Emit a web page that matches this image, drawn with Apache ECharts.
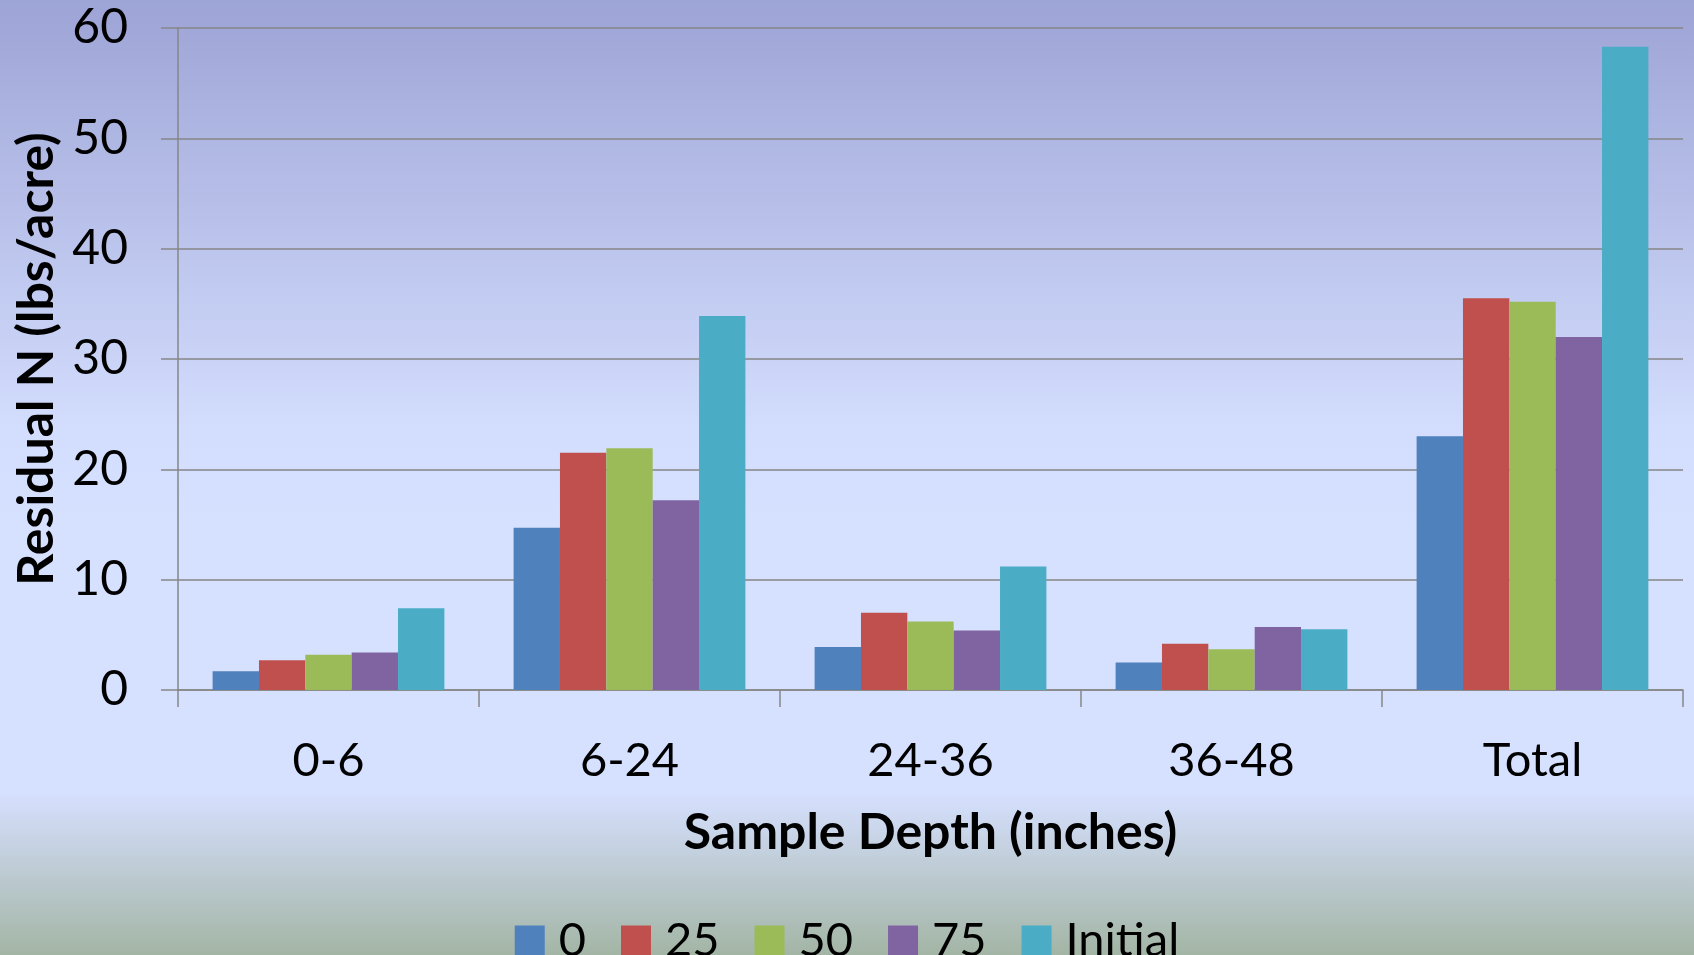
<!DOCTYPE html>
<html>
<head>
<meta charset="utf-8">
<script src="https://cdn.jsdelivr.net/npm/echarts@6/dist/echarts.min.js"></script>
<style>
html,body{margin:0;padding:0;}
#chart{width:1694px;height:955px;}
</style>
</head>
<body>
<div id="chart"></div>
<script>
const categories = ['0-6', '6-24', '24-36', '36-48', 'Total'];
const seriesNames = ['0', '25', '50', '75', 'Initial'];
const values0 = [1.7, 14.7, 3.9, 2.5, 23.0];
const values25 = [2.7, 21.5, 7.0, 4.2, 35.5];
const values50 = [3.2, 21.9, 6.2, 3.7, 35.2];
const values75 = [3.4, 17.2, 5.4, 5.7, 32.0];
const valuesInitial = [7.4, 33.9, 11.2, 5.5, 58.3];
const yTicks = [0, 10, 20, 30, 40, 50, 60];

const colors = ['#4F81BD', '#C0504D', '#9BBB59', '#8064A2', '#4BACC6'];
const allValues = [values0, values25, values50, values75, valuesInitial];
const FONT = 'Lato';

const chart = echarts.init(document.getElementById('chart'));
chart.setOption({
  backgroundColor: {
    type: 'linear', x: 0, y: 0, x2: 0, y2: 1,
    colorStops: [
      {offset: 0, color: '#9DA4D6'},
      {offset: 0.45, color: '#D3DDFD'},
      {offset: 0.55, color: '#D6E0FF'},
      {offset: 0.83, color: '#D6E0FF'},
      {offset: 1, color: '#A3B5A5'}
    ]
  },
  animation: false,
  textStyle: {fontFamily: FONT},
  grid: {left: 178, right: 11, top: 28, bottom: 265, containLabel: false},
  legend: {
    data: seriesNames,
    left: 'center',
    top: 912,
    itemWidth: 30,
    itemHeight: 30,
    itemGap: 35,
    icon: 'rect',
    textStyle: {fontFamily: FONT, fontSize: 47, color: '#000', lineHeight: 47, padding: [0, 0, 0, 9]}
  },
  xAxis: {
    type: 'category',
    data: categories,
    name: 'Sample Depth (inches)',
    nameLocation: 'middle',
    nameGap: 118,
    nameTextStyle: {fontFamily: FONT, fontSize: 50, fontWeight: 'bold', color: '#000'},
    axisLine: {lineStyle: {color: '#868686', width: 1.5}},
    axisTick: {show: true, length: 17, lineStyle: {color: '#868686', width: 1.5}},
    axisLabel: {fontFamily: FONT, fontSize: 47, color: '#000', margin: 47}
  },
  yAxis: {
    type: 'value',
    min: 0, max: 60, interval: 10,
    name: 'Residual N (lbs/acre)',
    nameLocation: 'middle',
    nameGap: 115,
    nameTextStyle: {fontFamily: FONT, fontSize: 50, fontWeight: 'bold', color: '#000'},
    axisLine: {show: true, lineStyle: {color: '#868686', width: 1.5}},
    axisTick: {show: true, length: 17, lineStyle: {color: '#868686', width: 1.5}},
    axisLabel: {fontFamily: FONT, fontSize: 48, color: '#000', margin: 50,
      formatter: v => yTicks.includes(v) ? String(v) : ''},
    splitLine: {lineStyle: {color: '#868686', width: 1.5}}
  },
  series: seriesNames.map((n, i) => ({
    name: n,
    type: 'bar',
    data: allValues[i],
    barGap: '0%',
    barCategoryGap: '23%',
    itemStyle: {color: colors[i]}
  }))
});
</script>
</body>
</html>
